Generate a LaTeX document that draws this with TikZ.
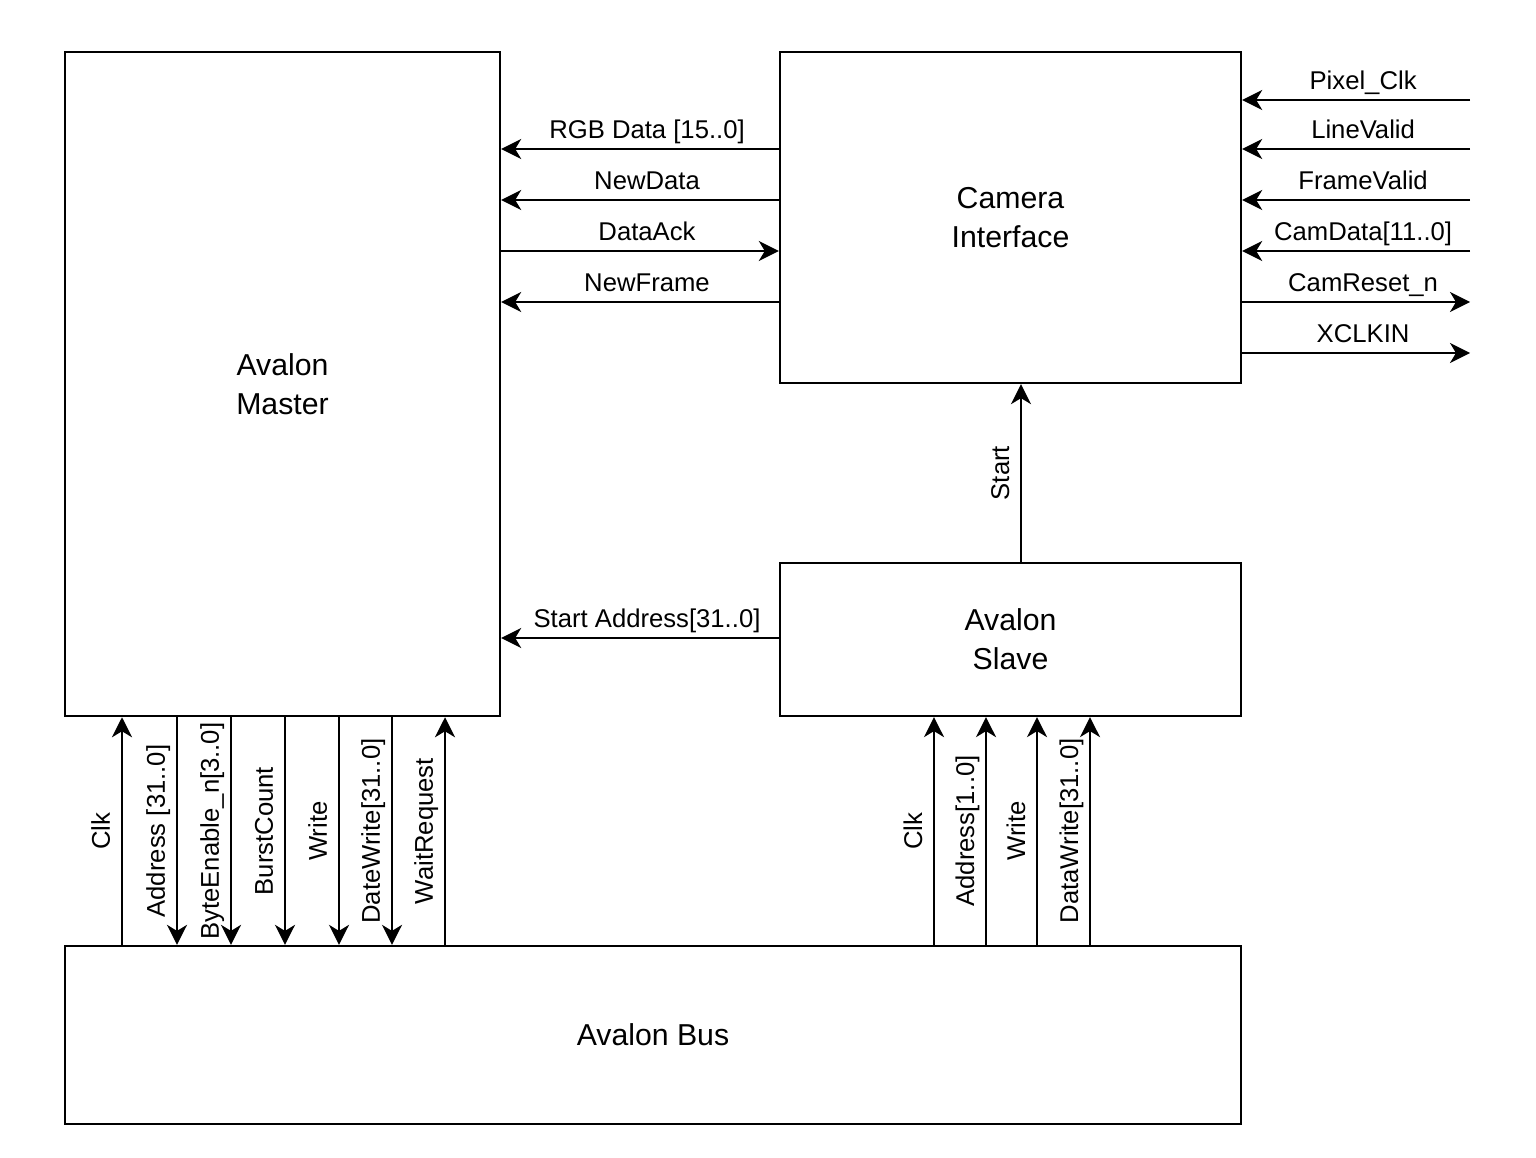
\documentclass[tikz,border=0pt]{standalone}
\usepackage{fontspec}
\setmainfont{Liberation Sans}
\usepackage{tikz}
\usetikzlibrary{arrows.meta}
\usetikzlibrary{positioning}

\begin{document}
\begin{tikzpicture}[
        x=0.01cm, y=-0.01cm,
        block/.style={rectangle, draw=black, line width=0.6pt, align=center, inner sep=0pt, font=\fontsize{8.6}{11}\selectfont},
        sig/.style={-{Stealth[length=2mm, width=2mm, inset=0.6mm]}, line width=0.6pt},
        hlabel/.style={anchor=base, yshift=0.1cm, xshift=0.07cm, font=\fontsize{7.3}{8.6}\selectfont},
        vlabel/.style={xshift=-0.12cm, rotate=90, anchor=base, font=\fontsize{7.3}{8.6}\selectfont}
    ]

    \useasboundingbox (0,0) rectangle (1536,1158);

    % Bloques
    \node[block, minimum width=4.35cm, minimum height=6.64cm] (master) at (282.5,384) {Avalon\\Master};
    \node[block, minimum width=4.61cm, minimum height=3.31cm] (cam) at (1010.5,217.5) {Camera\\Interface};
    \node[block, minimum width=4.61cm, minimum height=1.53cm] (slave) at (1010.5,639.5) {Avalon\\Slave};
    \node[block, minimum width=11.76cm, minimum height=1.78cm] (bus) at (653,1035) {Avalon Bus};

    % Senales Camera -> Master
    \draw[sig] (cam.west |- 0,149) -- node[hlabel] {RGB Data [15..0]} (master.east |- 0,149);
    \draw[sig] (cam.west |- 0,200) -- node[hlabel] {NewData} (master.east |- 0,200);
    \draw[sig] (master.east |- 0,251) -- node[hlabel] {DataAck} (cam.west |- 0,251);
    \draw[sig] (cam.west |- 0,302) -- node[hlabel] {NewFrame} (master.east |- 0,302);

    % Slave -> Master / Camera
    \draw[sig] (slave.west |- 0,638) -- node[hlabel] {Start Address[31..0]} (master.east |- 0,638);
    \draw[sig] (slave.north -| 1021,0) -- node[vlabel] {Start} (cam.south -| 1021,0);

    % Pines de la camara
    \coordinate (pclk) at (1470,100);
    \coordinate (lval) at (1470,149);
    \coordinate (fval) at (1470,200);
    \coordinate (cdata) at (1470,251);
    \coordinate (creset) at (1470,302);
    \coordinate (xclk) at (1470,353);

    \draw[sig] (pclk) -- node[hlabel] {Pixel\_Clk} (cam.east |- pclk);
    \draw[sig] (lval) -- node[hlabel] {LineValid} (cam.east |- lval);
    \draw[sig] (fval) -- node[hlabel] {FrameValid} (cam.east |- fval);
    \draw[sig] (cdata) -- node[hlabel] {CamData[11..0]} (cam.east |- cdata);
    \draw[sig] (cam.east |- creset) -- node[hlabel] {CamReset\_n} (creset);
    \draw[sig] (cam.east |- xclk) -- node[hlabel] {XCLKIN} (xclk);

    % Master <-> Bus
    \draw[sig] (bus.north -| 122,0) -- node[vlabel] {Clk} (master.south -| 122,0);
    \draw[sig] (master.south -| 177,0) -- node[vlabel] {Address [31..0]} (bus.north -| 177,0);
    \draw[sig] (master.south -| 231,0) -- node[vlabel] {ByteEnable\_n[3..0]} (bus.north -| 231,0);
    \draw[sig] (master.south -| 285,0) -- node[vlabel] {BurstCount} (bus.north -| 285,0);
    \draw[sig] (master.south -| 339,0) -- node[vlabel] {Write} (bus.north -| 339,0);
    \draw[sig] (master.south -| 392,0) -- node[vlabel] {DateWrite[31..0]} (bus.north -| 392,0);
    \draw[sig] (bus.north -| 445,0) -- node[vlabel] {WaitRequest} (master.south -| 445,0);

    % Bus -> Slave
    \draw[sig] (bus.north -| 934,0) -- node[vlabel] {Clk} (slave.south -| 934,0);
    \draw[sig] (bus.north -| 986,0) -- node[vlabel] {Address[1..0]} (slave.south -| 986,0);
    \draw[sig] (bus.north -| 1037,0) -- node[vlabel] {Write} (slave.south -| 1037,0);
    \draw[sig] (bus.north -| 1090,0) -- node[vlabel] {DataWrite[31..0]} (slave.south -| 1090,0);

\end{tikzpicture}
\end{document}
